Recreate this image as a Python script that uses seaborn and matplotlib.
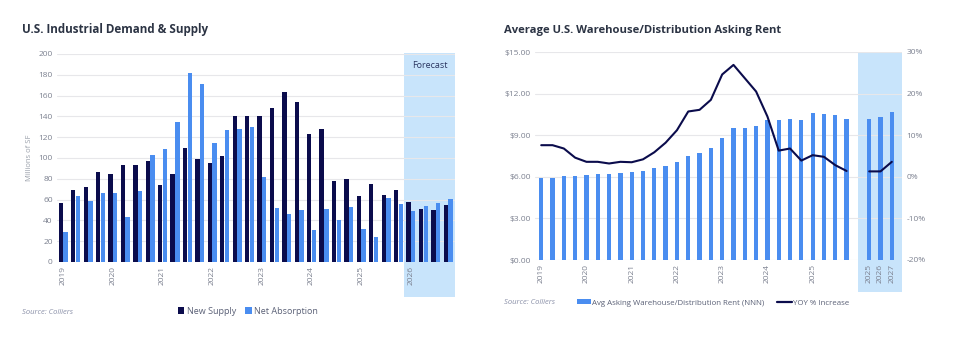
import numpy as np
import pandas as pd
import matplotlib
matplotlib.use("Agg")
import matplotlib.pyplot as plt
import matplotlib.transforms as mtrans
from matplotlib.patches import Rectangle, Patch
from matplotlib.lines import Line2D
import seaborn as sns

# ---------------- data ----------------
years_left = ["2019", "2020", "2021", "2022", "2023", "2024", "2025", "2026"]
quarters = [f"{y} Q{q}" for y in years_left for q in range(1, 5)]
new_supply = [57, 69, 72, 87, 85, 93, 93, 97,
              74, 85, 110, 99, 95, 102, 140, 140,
              140, 148, 163, 154, 123, 128, 78, 80,
              63, 75, 64, 69, 58, 51, 50, 55]
net_absorption = [29, 63, 59, 66, 66, 43, 68, 103,
                  109, 135, 182, 171, 114, 127, 128, 130,
                  82, 52, 46, 50, 31, 51, 40, 53,
                  32, 24, 62, 56, 49, 54, 57, 61]

years_right = ["2019", "2020", "2021", "2022", "2023", "2024", "2025"]
rent_periods = [f"{y} Q{q}" for y in years_right for q in range(1, 5)] + ["", "2025F", "2026F", "2027F"]
rent = [5.91, 5.94, 6.03, 6.03, 6.10, 6.18, 6.22, 6.25,
        6.34, 6.44, 6.63, 6.78, 7.04, 7.47, 7.69, 8.05,
        8.80, 9.49, 9.54, 9.66, 10.09, 10.09, 10.19, 10.07,
        10.58, 10.53, 10.45, 10.19, np.nan, 10.17, 10.33, 10.69]
yoy = [7.6, 7.6, 6.8, 4.6, 3.6, 3.6, 3.2, 3.6,
       3.5, 4.2, 5.9, 8.2, 11.2, 15.7, 16.1, 18.5,
       24.6, 26.9, 23.7, 20.5, 14.5, 6.3, 6.8, 3.9,
       5.2, 4.8, 2.8, 1.4, np.nan, 1.3, 1.3, 3.6]
right_tick_labels = ["2019", "2020", "2021", "2022", "2023", "2024", "2025", "2025", "2026", "2027"]

# ---------------- style ----------------
NAVY = "#0b0c4c"
BLUE = "#4a8df0"
BAND = "#c8e4fb"
GRID = "#e7e7ea"
TXT = "#2c3444"
TICK = "#7c8190"

sns.set_theme(style="white")
plt.rcParams['font.family'] = ['Open Sans', 'DejaVu Sans']

fig = plt.figure(figsize=(9.56, 3.41), dpi=100)
W, H = 956, 341

# ================= LEFT CHART =================
ax1 = fig.add_axes([57 / W, 79 / H, 398 / W, 208 / H])
df1 = pd.DataFrame({
    "period": quarters * 2,
    "series": ["New Supply"] * len(quarters) + ["Net Absorption"] * len(quarters),
    "value": new_supply + net_absorption,
})
sns.barplot(data=df1, x="period", y="value", hue="series", order=quarters,
            hue_order=["New Supply", "Net Absorption"], palette=[NAVY, BLUE],
            saturation=1, linewidth=0, width=0.76, gap=0.08, errorbar=None,
            legend=False, ax=ax1, zorder=2)
ax1.set_xlim(-0.5, 31.55)
ax1.set_ylim(0, 200)
ax1.set_yticks(range(0, 201, 20))
ax1.yaxis.grid(True, color=GRID, lw=0.8)
ax1.set_axisbelow(True)
for s in ax1.spines.values():
    s.set_visible(False)
ax1.set_xticks([i * 4 for i in range(len(years_left))])
ax1.set_xticklabels(years_left, rotation=90)
ax1.tick_params(axis="both", length=0, labelsize=6, labelcolor=TICK, pad=3)
ax1.set_xlabel("")
ax1.set_ylabel("Millions of SF", fontsize=5.5, color="#9aa0aa", labelpad=4)
tr1 = mtrans.blended_transform_factory(ax1.transData, ax1.transAxes)
ax1.add_patch(Rectangle((27.45, -0.168), 31.55 - 27.45, 1.168 + 0.005, transform=tr1,
                        facecolor=BAND, edgecolor="none", clip_on=False, zorder=0.3))
ax1.text(29.5, 0.945, "Forecast", transform=tr1, ha="center", va="center",
         fontsize=6.5, color="#2a3560", zorder=3)

fig.text(22 / W, 1 - 30 / H, "U.S. Industrial Demand & Supply", fontsize=8.4,
         fontweight="bold", color=TXT, va="center", ha="left")
fig.text(22 / W, 1 - 312 / H, "Source: Colliers", fontsize=5.5, style="italic",
         color="#8a90a8", va="center", ha="left")
h1 = [Patch(facecolor=NAVY, edgecolor="none", label="New Supply"),
      Patch(facecolor=BLUE, edgecolor="none", label="Net Absorption")]
fig.legend(handles=h1, loc="center", bbox_to_anchor=(248 / W, 1 - 311 / H), ncol=2,
           frameon=False, fontsize=6.5, handlelength=0.7, handleheight=0.7,
           handletextpad=0.3, columnspacing=1.0, labelcolor="#5a6076")

# ================= RIGHT CHART =================
ax2 = fig.add_axes([535 / W, 81 / H, 367 / W, 208 / H])
df2 = pd.DataFrame({"period": rent_periods, "rent": rent})
sns.barplot(data=df2, x="period", y="rent", order=rent_periods, color=BLUE,
            saturation=1, linewidth=0, width=0.38, errorbar=None, ax=ax2, zorder=2)
ax2.set_xlim(-0.55, 31.9)
ax2.set_ylim(0, 15)
ax2.set_yticks(np.arange(0, 15.01, 3))
ax2.set_yticklabels([f"${v:.2f}" for v in np.arange(0, 15.01, 3)])
ax2.yaxis.grid(True, color=GRID, lw=0.8)
ax2.set_axisbelow(True)
for s in ax2.spines.values():
    s.set_visible(False)
rticks = [0, 4, 8, 12, 16, 20, 24, 29, 30, 31]
ax2.set_xticks(rticks)
ax2.set_xticklabels(right_tick_labels, rotation=90)
ax2.tick_params(axis="both", length=0, labelsize=6, labelcolor=TICK, pad=3)
ax2.set_xlabel("")
ax2.set_ylabel("")
tr2 = mtrans.blended_transform_factory(ax2.transData, ax2.transAxes)
ax2.add_patch(Rectangle((28.05, -0.154), 31.9 - 28.05, 1.154, transform=tr2,
                        facecolor=BAND, edgecolor="none", clip_on=False, zorder=0.3))

ax3 = ax2.twinx()
df3 = pd.DataFrame({"pos": np.arange(len(yoy)), "yoy": yoy,
                    "seg": ["hist"] * 28 + ["gap"] + ["fc"] * 3})
df3 = df3[df3["seg"] != "gap"]
sns.lineplot(data=df3, x="pos", y="yoy", units="seg", estimator=None, color=NAVY,
             lw=1.5, ax=ax3, zorder=3)
ax3.set_ylim(-20, 30)
ax3.set_yticks(range(-20, 31, 10))
ax3.set_yticklabels([f"{v}%" for v in range(-20, 31, 10)])
ax3.tick_params(axis="y", length=0, labelsize=6, labelcolor=TICK, pad=3)
ax3.set_ylabel("")
ax3.set_xlabel("")
for s in ax3.spines.values():
    s.set_visible(False)
ax2.set_xlim(-0.55, 31.9)

fig.text(504 / W, 1 - 30 / H, "Average U.S. Warehouse/Distribution Asking Rent",
         fontsize=8.1, fontweight="bold", color=TXT, va="center", ha="left")
fig.text(504 / W, 1 - 303 / H, "Source: Colliers", fontsize=5.5, style="italic",
         color="#8a90a8", va="center", ha="left")
h2 = [Patch(facecolor=BLUE, edgecolor="none", label="Avg Asking Warehouse/Distribution Rent (NNN)"),
      Line2D([0], [0], color=NAVY, lw=1.6, label="YOY % Increase")]
fig.legend(handles=h2, loc="center", bbox_to_anchor=(713 / W, 1 - 303 / H), ncol=2,
           frameon=False, fontsize=5.7, handlelength=1.8, handleheight=0.6,
           handletextpad=0.2, columnspacing=1.6, labelcolor="#5a6076")

fig.savefig("out.png", dpi=100)
